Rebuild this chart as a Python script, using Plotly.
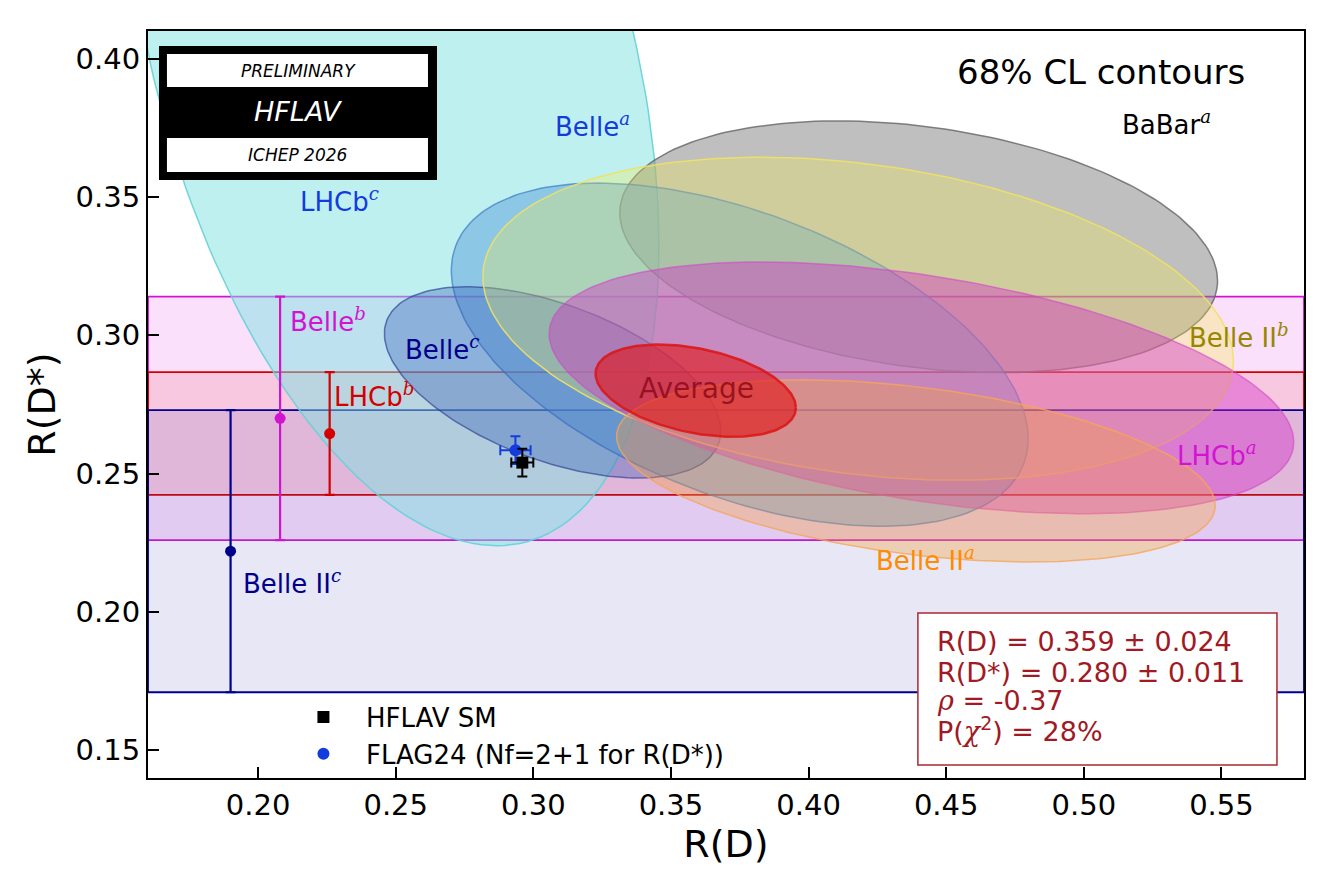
import numpy as np
import plotly.graph_objects as go

# 2D measurements: R(D), R(D*), total errors and correlation
ell_names = ["LHCb^c", "BaBar^a", "Belle^a", "Belle^c", "Belle II^b", "LHCb^a", "Belle II^a", "Average"]
ell_rd = [0.249, 0.440, 0.375, 0.307, 0.418, 0.441, 0.439, 0.359]
ell_rds = [0.402, 0.332, 0.293, 0.283, 0.306, 0.281, 0.251, 0.280]
ell_sig_rd = [0.0637, 0.0716, 0.0691, 0.0403, 0.0899, 0.0892, 0.0717, 0.024]
ell_sig_rds = [0.1174, 0.030, 0.0409, 0.0228, 0.0385, 0.030, 0.0217, 0.011]
ell_rho = [-0.39, -0.27, -0.49, -0.51, -0.26, -0.43, -0.38, -0.37]

# R(D*)-only measurements (1 sigma bands)
band_names = ["Belle^b", "LHCb^b", "Belle II^c"]
band_rds = [0.270, 0.2645, 0.222]
band_err = [0.044, 0.0222, 0.051]
band_xpos = [0.208, 0.226, 0.190]

# SM predictions
sm_names = ["HFLAV SM", "FLAG24 (Nf=2+1 for R(D*))"]
sm_rd = [0.296, 0.2935]
sm_rd_err = [0.004, 0.0055]
sm_rds = [0.254, 0.2585]
sm_rds_err = [0.005, 0.005]

avg_text = ["R(D) = 0.359 ± 0.024", "R(D*) = 0.280 ± 0.011", "ρ = -0.37", "P(χ²) = 28%"]

# styles
ell_style = {
    "LHCb^c": ("rgba(127,225,225,0.5)", "rgba(100,210,215,0.9)"),
    "BaBar^a": ("rgba(128,128,128,0.5)", "rgba(100,100,100,0.8)"),
    "Belle^a": ("rgba(90,160,220,0.5)", "rgba(60,120,200,0.7)"),
    "Belle^c": ("rgba(50,90,180,0.35)", "rgba(50,70,150,0.7)"),
    "Belle II^b": ("rgba(250,240,80,0.3)", "rgba(240,225,100,0.9)"),
    "LHCb^a": ("rgba(210,40,200,0.4)", "rgba(210,70,200,0.6)"),
    "Belle II^a": ("rgba(245,160,60,0.35)", "rgba(245,165,90,0.8)"),
    "Average": ("rgba(225,20,20,0.6)", "rgba(220,20,20,0.85)"),
}
band_style = {
    "Belle^b": ("rgba(220,50,220,0.15)", "rgb(210,20,210)"),
    "LHCb^b": ("rgba(230,30,30,0.12)", "rgb(210,0,0)"),
    "Belle II^c": ("rgba(60,60,180,0.12)", "rgb(0,0,140)"),
}

FONT = "DejaVu Sans, Verdana, sans-serif"
k = np.sqrt(2.30)  # 68% CL for 2 dof
t = np.linspace(0, 2 * np.pi, 200)

fig = go.Figure()

# bands
for name, c, e in zip(band_names, band_rds, band_err):
    fc, lc = band_style[name]
    fig.add_shape(type="rect", xref="x domain", yref="y", x0=0, x1=1, y0=c - e, y1=c + e,
                  fillcolor=fc, line=dict(color=lc, width=1.8), layer="below")

# ellipses
for i, name in enumerate(ell_names):
    fc, lc = ell_style[name]
    r = ell_rho[i]
    xs = ell_rd[i] + k * ell_sig_rd[i] * np.cos(t)
    ys = ell_rds[i] + k * ell_sig_rds[i] * (r * np.cos(t) + np.sqrt(1 - r * r) * np.sin(t))
    fig.add_trace(go.Scatter(x=xs, y=ys, mode="lines", fill="toself", fillcolor=fc,
                             line=dict(color=lc, width=2.5 if name == "Average" else 1.5),
                             hoverinfo="skip", showlegend=False))

# vertical markers of the bands
for name, c, e, xp in zip(band_names, band_rds, band_err, band_xpos):
    lc = band_style[name][1]
    fig.add_trace(go.Scatter(x=[xp], y=[c], mode="markers",
                             marker=dict(size=11, color=lc),
                             error_y=dict(type="data", array=[e], color=lc, thickness=2.2, width=5),
                             hoverinfo="skip", showlegend=False))

# SM points
sm_color = ["black", "rgb(20,60,220)"]
sm_symbol = ["square", "circle"]
for order in [1, 0]:
    fig.add_trace(go.Scatter(x=[sm_rd[order]], y=[sm_rds[order]], mode="markers", name=sm_names[order],
                             marker=dict(size=12, color=sm_color[order], symbol=sm_symbol[order]),
                             error_x=dict(type="data", array=[sm_rd_err[order]], color=sm_color[order], thickness=2, width=5),
                             error_y=dict(type="data", array=[sm_rds_err[order]], color=sm_color[order], thickness=2, width=5),
                             showlegend=True, legendrank=order + 1))


def lab(s):
    base, sup = s.split("^")
    return base + "<sup><span style='font-family:DejaVu Serif'><i>" + sup + "</i></span></sup>"


labels = [
    ("Belle^a", 0.3216, 0.376, "rgb(20,60,220)"),
    ("BaBar^a", 0.530, 0.3767, "black"),
    ("LHCb^c", 0.2297, 0.3489, "rgb(20,60,220)"),
    ("Belle^b", 0.2255, 0.3055, "rgb(210,20,210)"),
    ("Belle^c", 0.2668, 0.2954, "rgb(0,0,140)"),
    ("LHCb^b", 0.2421, 0.2784, "rgb(210,0,0)"),
    ("Belle II^b", 0.5565, 0.2997, "rgb(150,135,0)"),
    ("LHCb^a", 0.5485, 0.2571, "rgb(210,20,210)"),
    ("Belle II^a", 0.4425, 0.2191, "rgb(255,140,0)"),
    ("Belle II^c", 0.2123, 0.2108, "rgb(0,0,140)"),
]
for s, x, y, col in labels:
    fig.add_annotation(x=x, y=y, text=lab(s), showarrow=False, xanchor="center", yanchor="middle",
                       font=dict(size=26, color=col, family=FONT))

fig.add_annotation(x=0.3593, y=0.2809, text="Average", showarrow=False, xanchor="center", yanchor="middle",
                   font=dict(size=28, color="rgba(140,10,25,0.85)", family=FONT))
fig.add_annotation(x=0.5064, y=0.3952, text="68% CL contours", showarrow=False, xanchor="center", yanchor="middle",
                   font=dict(size=34, color="black", family=FONT))

# average result box
fig.add_shape(type="rect", xref="paper", yref="paper", x0=0.666, x1=0.9766, y0=0.0174, y1=0.2209,
              fillcolor="white", line=dict(color="rgb(170,40,50)", width=1.5), layer="above")
line_y = [0.1821, 0.1419, 0.1044, 0.0643]
for s, yy in zip(avg_text, line_y):
    s = s.replace("ρ", "<span style='font-family:DejaVu Serif'><i>ρ</i></span>")
    s = s.replace("χ²", "<span style='font-family:DejaVu Serif'><i>χ</i></span><sup>2</sup>")
    fig.add_annotation(xref="paper", yref="paper", x=0.6808, y=yy, xanchor="left", yanchor="middle",
                       text=s, showarrow=False, font=dict(size=27, color="rgb(160,25,35)", family=FONT))

# HFLAV logo
fig.add_shape(type="rect", xref="paper", yref="paper", x0=0.0095, x1=0.25, y0=0.8005, y1=0.98,
              fillcolor="black", line=dict(width=0), layer="above")
for y0, y1 in [(0.925, 0.9692), (0.8112, 0.8568)]:
    fig.add_shape(type="rect", xref="paper", yref="paper", x0=0.0164, x1=0.2422, y0=y0, y1=y1,
                  fillcolor="white", line=dict(width=0), layer="above")
for txt, yy, sz, col in [("PRELIMINARY", 0.9471, 17, "black"), ("HFLAV", 0.8916, 27, "white"),
                         ("ICHEP 2026", 0.8340, 17, "black")]:
    fig.add_annotation(xref="paper", yref="paper", x=0.1298, y=yy, xanchor="center", yanchor="middle",
                       text="<i>" + txt + "</i>", showarrow=False, font=dict(size=sz, color=col, family=FONT))

fig.update_xaxes(range=[0.16, 0.58], tickvals=[0.20, 0.25, 0.30, 0.35, 0.40, 0.45, 0.50, 0.55],
                 tickformat=".2f", ticks="inside", ticklen=11, tickwidth=2, tickcolor="black",
                 showline=True, linecolor="black", linewidth=2, mirror=True, showgrid=False, zeroline=False,
                 tickfont=dict(size=29, color="black", family=FONT),
                 title=dict(text="R(D)", font=dict(size=38, color="black", family=FONT), standoff=6))
fig.update_yaxes(range=[0.14, 0.41], tickvals=[0.15, 0.20, 0.25, 0.30, 0.35, 0.40],
                 tickformat=".2f", ticks="inside", ticklen=11, tickwidth=2, tickcolor="black",
                 showline=True, linecolor="black", linewidth=2, mirror=True, showgrid=False, zeroline=False,
                 tickfont=dict(size=29, color="black", family=FONT),
                 title=dict(text="R(D*)", font=dict(size=38, color="black", family=FONT), standoff=8))

fig.update_layout(
    width=1320, height=871,
    margin=dict(l=140, r=24, t=23, b=101),
    plot_bgcolor="white", paper_bgcolor="white",
    font=dict(family=FONT),
    legend=dict(x=0.115, y=0.113, xanchor="left", yanchor="top", bgcolor="rgba(0,0,0,0)",
                itemwidth=75, font=dict(size=26, color="black", family=FONT), traceorder="normal"),
)

fig.write_html("out.html")
